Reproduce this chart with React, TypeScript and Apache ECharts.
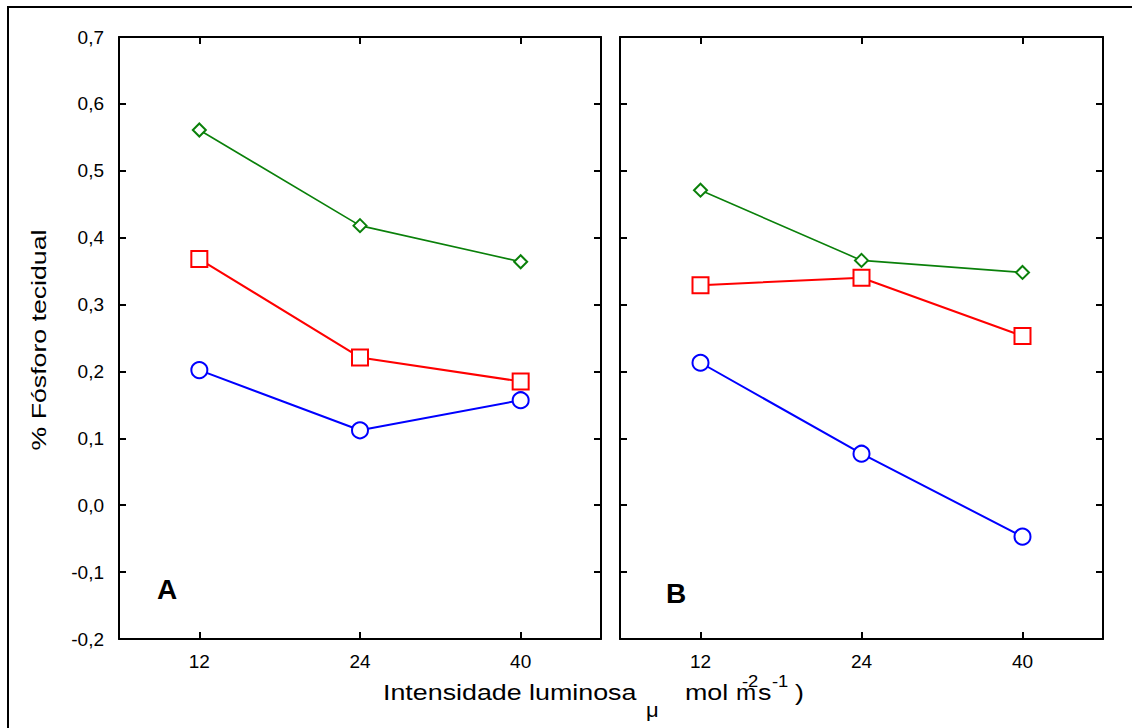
import React, { useEffect, useRef } from "react";
import * as echarts from "echarts";

const categories = ["12", "24", "40"];
const panelAGreen = [0.561, 0.418, 0.364];
const panelARed = [0.368, 0.221, 0.185];
const panelABlue = [0.202, 0.112, 0.157];
const panelBGreen = [0.471, 0.366, 0.348];
const panelBRed = [0.329, 0.34, 0.253];
const panelBBlue = [0.213, 0.077, -0.047];
const yMin = -0.2;
const yMax = 0.7;
const yStep = 0.1;
const panelLabels = ["A", "B"];
const yTitle = "% Fósforo tecidual";

const FONT = "'Liberation Sans', Arial, sans-serif";
const BLACK = "#000";
const GREEN = "#0a800a";
const RED = "#ff0000";
const BLUE = "#0000ff";

function xAxisDef(gridIndex: number, position: "top" | "bottom", labels: boolean) {
  return {
    type: "category",
    gridIndex,
    position,
    data: categories,
    boundaryGap: true,
    axisLine: { show: true, onZero: false, lineStyle: { color: BLACK, width: 2 } },
    axisTick: { show: true, inside: true, alignWithLabel: true, length: 7, lineStyle: { color: BLACK, width: 2 } },
    axisLabel: { show: labels, color: BLACK, fontSize: 19, fontFamily: FONT, margin: 13 },
    splitLine: { show: false },
  };
}

function yAxisDef(gridIndex: number, position: "left" | "right", labels: boolean) {
  return {
    type: "value",
    gridIndex,
    position,
    min: yMin,
    max: yMax,
    interval: yStep,
    axisLine: { show: true, onZero: false, lineStyle: { color: BLACK, width: 2 } },
    axisTick: { show: true, inside: true, length: 7, lineStyle: { color: BLACK, width: 2 } },
    axisLabel: {
      show: labels,
      color: BLACK,
      fontSize: 19,
      fontFamily: FONT,
      margin: 15,
      formatter: (v: number) => v.toFixed(1).replace(".", ","),
    },
    splitLine: { show: false },
  };
}

function lineSeries(
  data: number[],
  xIdx: number,
  yIdx: number,
  color: string,
  symbol: string,
  size: number,
  width: number
) {
  return {
    type: "line",
    xAxisIndex: xIdx,
    yAxisIndex: yIdx,
    data,
    symbol,
    symbolSize: size,
    showAllSymbol: true,
    lineStyle: { color, width },
    itemStyle: { color: "#fff", borderColor: color, borderWidth: 2 },
    emphasis: { disabled: true },
    z: 3,
  };
}

export default function App() {
  const ref = useRef<HTMLDivElement>(null);
  useEffect(() => {
    if (!ref.current) return;
    const chart = echarts.init(ref.current, undefined, { renderer: "svg" });
    const txt = (
      x: number,
      y: number,
      text: string,
      size: number,
      opts: Record<string, any> = {}
    ) => ({
      type: "text",
      x,
      y,
      scaleX: opts.scaleX ?? 1,
      rotation: opts.rotation ?? 0,
      z: 10,
      style: {
        text,
        fontSize: size,
        fontFamily: FONT,
        fontWeight: opts.bold ? "bold" : "normal",
        fill: BLACK,
        align: opts.align ?? "left",
        verticalAlign: "middle",
      },
    });
    chart.setOption({
      animation: false,
      backgroundColor: "#fff",
      grid: [
        { left: 119, top: 37, width: 482, height: 602 },
        { left: 620, top: 37, width: 483, height: 602 },
      ],
      xAxis: [
        xAxisDef(0, "bottom", true),
        xAxisDef(0, "top", false),
        xAxisDef(1, "bottom", true),
        xAxisDef(1, "top", false),
      ],
      yAxis: [
        yAxisDef(0, "left", true),
        yAxisDef(0, "right", false),
        yAxisDef(1, "left", false),
        yAxisDef(1, "right", false),
      ],
      series: [
        lineSeries(panelAGreen, 0, 0, GREEN, "diamond", 13, 1.6),
        lineSeries(panelARed, 0, 0, RED, "rect", 16, 2),
        lineSeries(panelABlue, 0, 0, BLUE, "circle", 16, 2),
        lineSeries(panelBGreen, 2, 2, GREEN, "diamond", 13, 1.6),
        lineSeries(panelBRed, 2, 2, RED, "rect", 16, 2),
        lineSeries(panelBBlue, 2, 2, BLUE, "circle", 16, 2),
      ],
      graphic: [
        {
          type: "rect",
          shape: { x: 8, y: 7, width: 1140, height: 740 },
          style: { fill: "none", stroke: BLACK, lineWidth: 2 },
          z: 10,
        },
        txt(167, 589, panelLabels[0], 28, { bold: true, align: "center" }),
        txt(676, 593, panelLabels[1], 28, { bold: true, align: "center" }),
        txt(39, 340, yTitle, 21, { rotation: Math.PI / 2, scaleX: 1.27, align: "center" }),
        txt(383, 692, "Intensidade luminosa", 22, { scaleX: 1.22 }),
        txt(646, 710, "μ", 20, { scaleX: 1.1 }),
        txt(685, 692, "mol", 22, { scaleX: 1.22 }),
        txt(736, 692, "m", 22, { scaleX: 1.1 }),
        txt(742, 681, "-2", 16, { scaleX: 1.15 }),
        txt(758, 692, "s", 22, { scaleX: 1.22 }),
        txt(772, 681, "-1", 16, { scaleX: 1.15 }),
        txt(795, 692, ")", 22, { scaleX: 1.22 }),
      ],
    });
    return () => chart.dispose();
  }, []);
  return (
    <div
      ref={ref}
      style={{ position: "absolute", left: 0, top: 0, width: 1132, height: 728, background: "#fff" }}
    />
  );
}
